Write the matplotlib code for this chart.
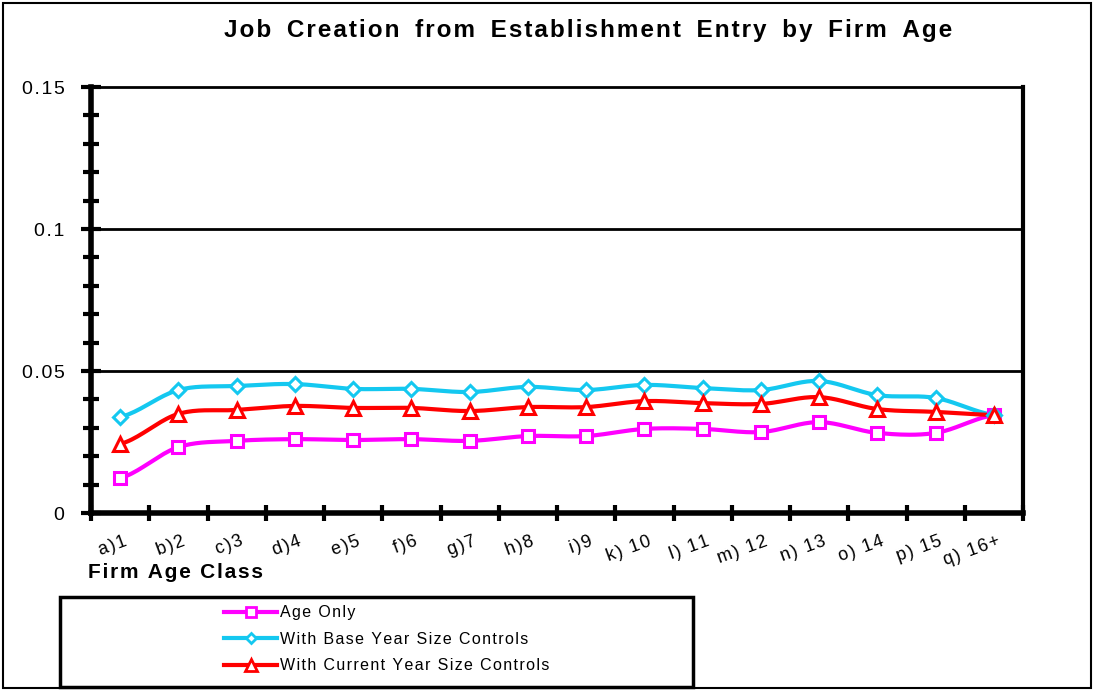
import matplotlib.pyplot as plt
import matplotlib.patches as mpatches
from matplotlib.lines import Line2D
from matplotlib.ticker import MultipleLocator
import numpy as np

plt.rcParams['font.family'] = ['Liberation Sans', 'DejaVu Sans']

categories = ['a)1', 'b)2', 'c)3', 'd)4', 'e)5', 'f)6', 'g)7', 'h)8', 'i)9',
              'k) 10', 'l) 11', 'm) 12', 'n) 13', 'o) 14', 'p) 15', 'q) 16+']

age_only = [0.0123, 0.0232, 0.0254, 0.0260, 0.0257, 0.0260, 0.0254, 0.0271,
            0.0271, 0.0296, 0.0296, 0.0285, 0.0320, 0.0282, 0.0282, 0.0345]
base_year = [0.0338, 0.0433, 0.0447, 0.0454, 0.0437, 0.0437, 0.0426, 0.0444,
             0.0433, 0.0451, 0.0440, 0.0433, 0.0465, 0.0415, 0.0405, 0.0345]
current_year = [0.0243, 0.0349, 0.0363, 0.0377, 0.0370, 0.0370, 0.0359, 0.0373,
                0.0373, 0.0394, 0.0387, 0.0384, 0.0408, 0.0366, 0.0356, 0.0345]

series = [
    ('Age Only', age_only, '#FF00FF', 's', 9),
    ('With Base Year Size Controls', base_year, '#14C8F0', 'D', 7),
    ('With Current Year Size Controls', current_year, '#FF0000', '^', 10),
]


def spaced(s, gap='\u200a', word_gap=''):
    # the old excel print spreads letters out a bit
    out = gap.join(s)
    if word_gap:
        out = out.replace(' ', ' ' + word_gap)
    return out


def smooth(x, y, n=20):
    # catmull-rom through the points, like excel's smoothed line
    x = np.asarray(x, float)
    y = np.asarray(y, float)
    px = np.concatenate([[2 * x[0] - x[1]], x, [2 * x[-1] - x[-2]]])
    py = np.concatenate([[y[0]], y, [y[-1]]])
    xs, ys = [], []
    t = np.linspace(0, 1, n, endpoint=False)
    for i in range(1, len(px) - 2):
        for p, out in ((px, xs), (py, ys)):
            p0, p1, p2, p3 = p[i - 1], p[i], p[i + 1], p[i + 2]
            out.extend(0.5 * (2 * p1 + (-p0 + p2) * t
                              + (2 * p0 - 5 * p1 + 4 * p2 - p3) * t ** 2
                              + (-p0 + 3 * p1 - 3 * p2 + p3) * t ** 3))
    xs.append(x[-1])
    ys.append(y[-1])
    return np.array(xs), np.array(ys)


fig = plt.figure(figsize=(10.94, 6.90), dpi=100)
ax = fig.add_axes([91 / 1094, 177 / 690, 932 / 1094, 426 / 690])

x = np.arange(len(categories))
for name, vals, color, marker, ms in series:
    sx, sy = smooth(x, vals)
    ax.plot(sx, sy, color=color, lw=3, zorder=3, solid_capstyle='round')
    ax.plot(x, vals, ls='none', marker=marker, ms=ms, mfc='white',
            mec=color, mew=2.2, zorder=4)

ax.set_xlim(-0.5, len(categories) - 0.5)
ax.set_ylim(0, 0.15)
ax.set_yticks([0, 0.05, 0.1, 0.15])
ax.set_yticklabels([spaced(s) for s in ['0', '0.05', '0.1', '0.15']], fontsize=14)
ax.yaxis.set_minor_locator(MultipleLocator(0.01))
ax.tick_params(axis='y', which='both', direction='inout', length=12,
               width=3, pad=12)
ax.tick_params(axis='y', which='major', length=14)

ax.set_xticks(np.arange(len(categories) + 1) - 0.5)
ax.set_xticklabels([])
ax.tick_params(axis='x', direction='inout', length=12, width=3)
for i, lab in enumerate(categories):
    ax.text(i + 0.05, -0.007, spaced(lab), rotation=20, ha='right', va='top',
            rotation_mode='anchor', fontsize=13, transform=ax.transData)

for v in (0.05, 0.1):
    ax.axhline(v, color='black', lw=2, zorder=1)
ax.spines['left'].set_linewidth(4)
ax.spines['bottom'].set_linewidth(4)
ax.spines['top'].set_linewidth(2)
ax.spines['right'].set_linewidth(3)

fig.text(588 / 1094, 1 - 30 / 690,
         spaced('Job Creation from Establishment Entry by Firm Age', '\u200a', '\u2009'),
         ha='center', va='center', fontsize=17.5, fontweight='bold')
fig.text(88 / 1094, 1 - 572 / 690, spaced('Firm Age Class'),
         ha='left', va='center', fontsize=15, fontweight='bold')

# outer chart border
fig.patches.append(mpatches.Rectangle((3 / 1094, 2 / 690), 1088 / 1094, 685 / 690,
                                      transform=fig.transFigure, fill=False,
                                      edgecolor='black', lw=1.5))
# legend box
fig.patches.append(mpatches.Rectangle((60 / 1094, 3 / 690), 633 / 1094, 90 / 690,
                                      transform=fig.transFigure, fill=False,
                                      edgecolor='black', lw=2.5))

handles = [Line2D([], [], color=c, lw=3, marker=m, ms=ms * 0.8, mfc='white',
                  mec=c, mew=2) for _, _, c, m, ms in series]
fig.legend(handles, [spaced(s[0]) for s in series], loc='upper left',
           bbox_to_anchor=(210 / 1094, 1 - 591 / 690), frameon=False,
           fontsize=11.5, handlelength=3.3, handletextpad=0.2, labelspacing=0.72)

fig.savefig('out.png', dpi=100)
